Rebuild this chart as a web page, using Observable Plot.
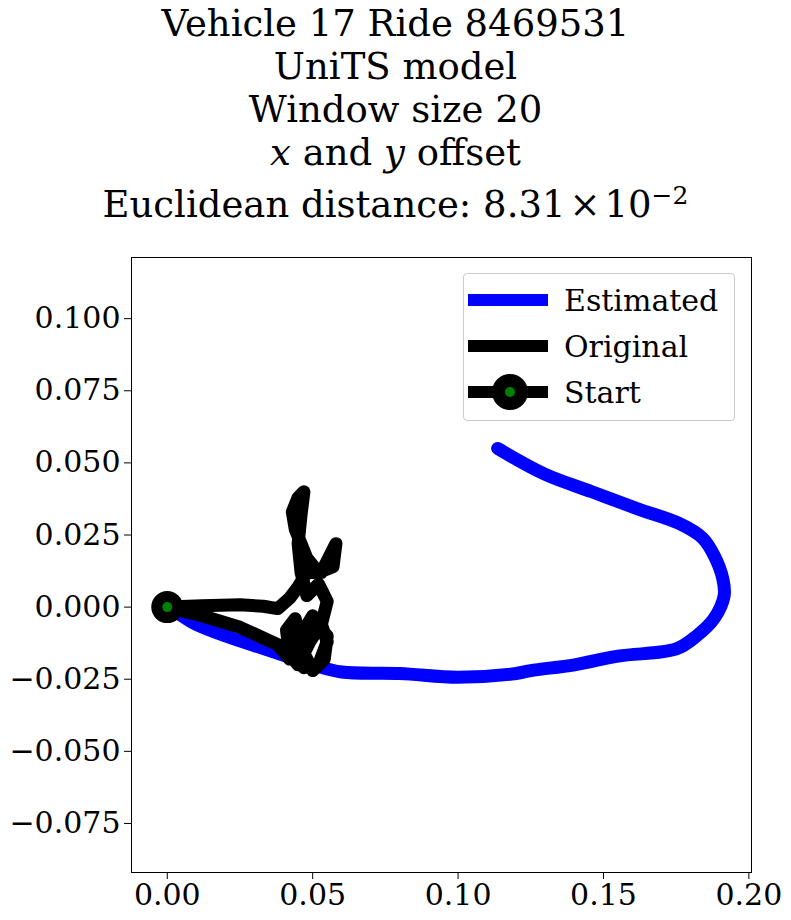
<!DOCTYPE html>
<html>
<head>
<meta charset="utf-8">
<script src="https://cdn.jsdelivr.net/npm/d3@7"></script>
<script src="https://cdn.jsdelivr.net/npm/@observablehq/plot@0.6"></script>
<style>
  body { margin: 0; background: #fff; font-family: "DejaVu Serif", serif; }
  #title { text-align: center; font-size: 37px; line-height: 43px; padding-top: 2px; height: 238px; }
  #wrap { position: relative; width: 791px; }
  #legend { position: absolute; left: 463px; top: 33px; width: 270px; height: 146px; border: 1px solid #ccc; border-radius: 4px; background: #fff; font-size: 30px; }
  .row { position: absolute; left: 0; height: 40px; display: flex; align-items: center; }
  .sw { width: 80px; height: 12px; margin-left: 4px; margin-right: 16px; position: relative; }
</style>
</head>
<body>
<div id="title">
  <div>Vehicle 17 Ride 8469531</div>
  <div>UniTS model</div>
  <div>Window size 20</div>
  <div><i>x</i> and <i>y</i> offset</div>
  <div>Euclidean distance: 8.31<span style="margin:0 4px">×</span>10<sup style="font-size:25px">−2</sup></div>
</div>
<div id="wrap">
  <div id="plot"></div>
  <div id="legend">
    <div class="row" style="top:6px"><div class="sw" style="background:#0000ff"></div>Estimated</div>
    <div class="row" style="top:52px"><div class="sw" style="background:#000"></div>Original</div>
    <div class="row" style="top:98px"><div class="sw" style="background:#000">
      <div style="position:absolute;left:24px;top:-12px;width:36px;height:36px;border-radius:50%;background:#000"></div>
      <div style="position:absolute;left:37px;top:1px;width:10px;height:10px;border-radius:50%;background:#008000"></div>
    </div>Start</div>
  </div>
</div>
<script>
const estX = [0, 0.005, 0.01, 0.02, 0.035, 0.05, 0.06, 0.08, 0.1, 0.12, 0.125, 0.14, 0.155, 0.175, 0.182, 0.188, 0.1915, 0.191, 0.188, 0.184, 0.176, 0.162, 0.146, 0.13, 0.1136];
const estY = [0, -0.003, -0.006, -0.01, -0.015, -0.02, -0.0225, -0.023, -0.0243, -0.023, -0.022, -0.02, -0.017, -0.0145, -0.01, -0.004, 0.004, 0.01, 0.018, 0.024, 0.029, 0.034, 0.04, 0.046, 0.055];
const origX = [0, 0.012, 0.025, 0.033, 0.038, 0.042, 0.045, 0.048, 0.053, 0.058, 0.057, 0.052, 0.048, 0.044, 0.043, 0.045, 0.047, 0.046, 0.045, 0.046, 0.048, 0.052, 0.055, 0.053, 0.05, 0.047, 0.043, 0.041, 0.045, 0.049, 0.053, 0.055, 0.052, 0.047, 0.042, 0.041, 0.044, 0.046, 0.05, 0.054, 0.055, 0.051, 0.046, 0.042, 0.038, 0.025, 0.012, 0];
const origY = [0, 0.0005, 0.0008, 0.0003, -0.0005, 0.003, 0.007, 0.012, 0.012, 0.022, 0.014, 0.012, 0.017, 0.027, 0.033, 0.038, 0.040, 0.032, 0.022, 0.012, 0.004, 0.008, 0.002, -0.006, -0.003, -0.008, -0.006, -0.015, -0.02, -0.012, -0.006, -0.012, -0.02, -0.021, -0.016, -0.008, -0.004, -0.014, -0.022, -0.018, -0.01, -0.006, -0.011, -0.018, -0.013, -0.007, -0.003, 0];
const startPt = [{x: 0, y: 0}];

const est = estX.map((x, i) => ({x, y: estY[i]}));
const orig = origX.map((x, i) => ({x, y: origY[i]}));

const plot = Plot.plot({
  width: 791,
  height: 682,
  marginTop: 17,
  marginLeft: 131,
  marginRight: 40,
  marginBottom: 50,
  style: {fontFamily: "DejaVu Serif", fontSize: "30px", color: "#000", background: "#fff"},
  x: {domain: [-0.0123, 0.2009], ticks: [0, 0.05, 0.1, 0.15, 0.2], tickFormat: d3.format(".2f"), tickSize: 7, tickPadding: 4, label: null},
  y: {domain: [-0.092, 0.1212], ticks: [-0.075, -0.05, -0.025, 0, 0.025, 0.05, 0.075, 0.1], tickFormat: d3.format(".3f"), tickSize: 7, tickPadding: 4, label: null},
  marks: [
    Plot.line(est, {x: "x", y: "y", stroke: "#0000ff", strokeWidth: 13, curve: "catmull-rom"}),
    Plot.line(orig, {x: "x", y: "y", stroke: "#000", strokeWidth: 13, strokeLinejoin: "round"}),
    Plot.dot(startPt, {x: "x", y: "y", r: 16, fill: "#000"}),
    Plot.dot(startPt, {x: "x", y: "y", r: 5, fill: "#008000"}),
    Plot.frame({stroke: "#000"})
  ]
});
document.getElementById("plot").appendChild(plot);
</script>
</body>
</html>
